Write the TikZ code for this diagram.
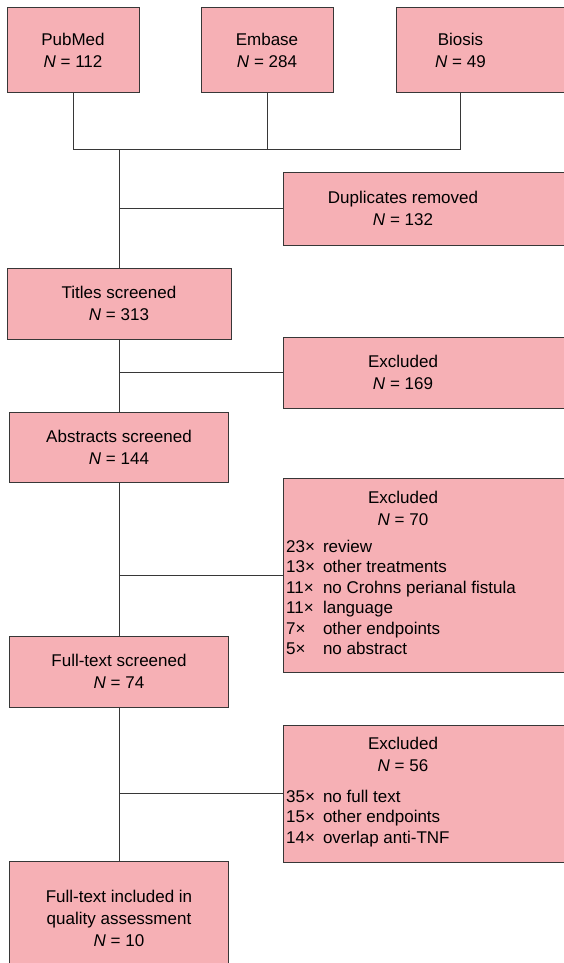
\documentclass[tikz,border=0pt]{standalone}
\usepackage{fontspec}
\setmainfont{Liberation Sans}
\usepackage{xcolor}
\usetikzlibrary{positioning}
\definecolor{boxpink}{RGB}{246,176,181}
\definecolor{edgegray}{RGB}{55,55,55}

\begin{document}
\begin{tikzpicture}[
  x=1pt, y=-1pt,
  font=\fontsize{17}{22}\selectfont,
  box/.style={draw=edgegray, fill=boxpink, line width=1pt, inner sep=0pt, align=center},
  lbox/.style={box, minimum width=219pt, minimum height=71pt},
  rbox/.style={box, anchor=west, minimum width=330pt},
  txt/.style={inner sep=0pt, align=center},
  lst/.style={inner sep=0pt, anchor=north west, font=\fontsize{17}{20.4}\selectfont},
  conn/.style={draw=edgegray, line width=1pt},
]
\useasboundingbox (0,0) rectangle (563,963);

% databases
\node[box, minimum width=132pt, minimum height=85pt] (pubmed) at (73,50.5) {PubMed\\\textit{N} = 112};
\node[box, minimum width=132pt, minimum height=85pt, right=61pt of pubmed] (embase) {Embase\\\textit{N} = 284};
\node[box, minimum width=200pt, minimum height=85pt, right=62pt of embase] (biosis) {};
\node[txt] (biosistxt) at ([xshift=65pt]biosis.west) {Biosis\\\textit{N} = 49};

% screening steps
\node[lbox, minimum width=224pt] (titles) at (119,303.5) {Titles screened\\\textit{N} = 313};
\node[lbox, minimum height=70pt, below=72pt of titles] (abstracts) {Abstracts screened\\\textit{N} = 144};
\node[lbox, below=153pt of abstracts] (fulltext) {Full-text screened\\\textit{N} = 74};
\node[lbox, minimum height=114pt, below=153pt of fulltext] (included) {Full-text included in\\quality assessment\\\textit{N} = 10};

% removed / excluded
\node[rbox, minimum height=73pt] (dup) at (283,208.5) {};
\node[txt] (duptxt) at ([xshift=120pt]dup.west) {Duplicates removed\\\textit{N} = 132};
\node[rbox, minimum height=71pt] (excla) at (283,372.5) {};
\node[txt] (exclatxt) at ([xshift=120pt]excla.west) {Excluded\\\textit{N} = 169};
\node[rbox, minimum height=194pt] (exclb) at (283,575) {};
\node[txt, anchor=north] (exclbtxt) at ([xshift=120pt,yshift=-13pt]exclb.north west) {Excluded\\\textit{N} = 70};
\node[lst] (exclblst) at ([xshift=3pt,yshift=-60.5pt]exclb.north west) {\begin{tabular}{@{}l@{\hspace{8pt}}l@{}}
23× & review\\
13× & other treatments\\
11× & no Crohns perianal fistula\\
11× & language\\
7× & other endpoints\\
5× & no abstract
\end{tabular}};
\node[rbox, minimum height=137pt] (exclc) at (283,793.5) {};
\node[txt, anchor=north] (exclctxt) at ([xshift=120pt,yshift=-12.5pt]exclc.north west) {Excluded\\\textit{N} = 56};
\node[lst] (exclclst) at ([xshift=3pt,yshift=-63.5pt]exclc.north west) {\begin{tabular}{@{}l@{\hspace{8pt}}l@{}}
35× & no full text\\
15× & other endpoints\\
14× & overlap anti-TNF
\end{tabular}};

% connectors
\draw[conn] (pubmed.south) -- ++(0,56) coordinate (join) -| (biosistxt |- biosis.south);
\draw[conn] (embase.south) -- (embase.south |- join);
\draw[conn] (join -| titles.north) -- (titles.north);
\draw[conn] (titles) -- (abstracts);
\draw[conn] (abstracts) -- (fulltext);
\draw[conn] (fulltext) -- (included);
\draw[conn] (dup.west) -- (dup.west -| titles.north);
\draw[conn] (excla.west) -- (excla.west -| titles.south);
\draw[conn] (exclb.west) -- (exclb.west -| abstracts.south);
\draw[conn] (exclc.west) -- (exclc.west -| fulltext.south);
\end{tikzpicture}
\end{document}
